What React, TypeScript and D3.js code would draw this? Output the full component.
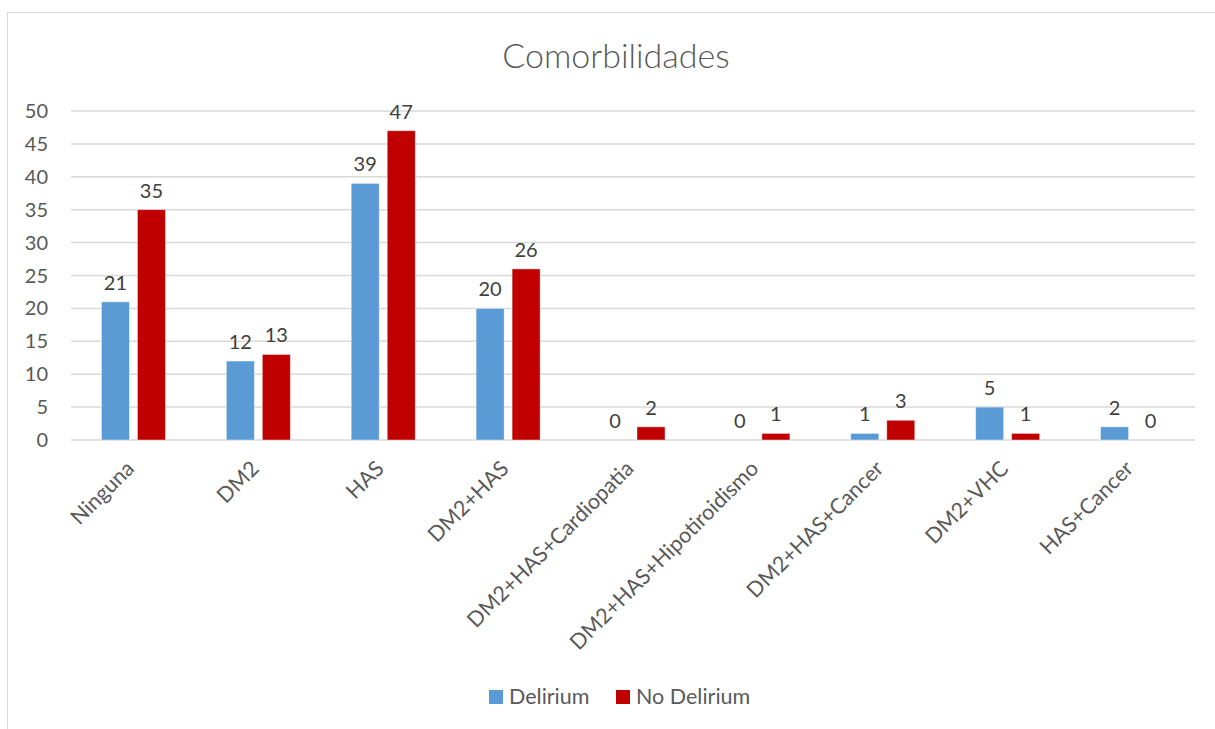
import React from "react";
import * as d3 from "d3";

const categories = ["Ninguna", "DM2", "HAS", "DM2+HAS", "DM2+HAS+Cardiopatia", "DM2+HAS+Hipotiroidismo", "DM2+HAS+Cancer", "DM2+VHC", "HAS+Cancer"];
const delirium = [21, 12, 39, 20, 0, 0, 1, 5, 2];
const noDelirium = [35, 13, 47, 26, 2, 1, 3, 1, 0];
const yTicks = [0, 5, 10, 15, 20, 25, 30, 35, 40, 45, 50];
const seriesNames = ["Delirium", "No Delirium"];
const colors = ["#5b9bd5", "#c00000"];

const W = 1215, H = 729;
const left = 71, right = 1195, top = 111, bottom = 440;
const font = "Lato, 'Open Sans', sans-serif";
const textColor = "#595959";

export default function App() {
  const x = d3.scaleBand().domain(categories).range([left, right]).paddingInner(0).paddingOuter(0);
  const y = d3.scaleLinear().domain([0, 50]).range([bottom, top]);
  const bw = 28;
  const gap = 8;
  const series = [delirium, noDelirium];
  return (
    <svg width={W} height={H} style={{ position: "absolute", left: 0, top: 0, background: "#fff" }}>
      <rect x={7.5} y={12.5} width={W} height={H} fill="#fff" stroke="#d9d9d9" strokeWidth={1} />
      <text x={616} y={68} textAnchor="middle" fontFamily={font} fontWeight={300} fontSize={34} fill={textColor}>Comorbilidades</text>
      {yTicks.map((t) => (
        <g key={t}>
          <line x1={left} x2={right} y1={y(t)} y2={y(t)} stroke="#d9d9d9" strokeWidth={1.5} />
          <text x={48} y={y(t) + 7} textAnchor="end" fontFamily={font} fontSize={20} fill={textColor}>{t}</text>
        </g>
      ))}
      {categories.map((c, i) => {
        const cx = (x(c) as number) + x.bandwidth() / 2;
        return (
          <g key={c}>
            {series.map((s, j) => {
              const bx = j === 0 ? cx - gap / 2 - bw : cx + gap / 2;
              const v = s[i];
              return (
                <g key={j}>
                  <rect x={bx} y={y(v)} width={bw} height={bottom - y(v)} fill={colors[j]} stroke="#fff" strokeOpacity={0.5} strokeWidth={0.8} />
                  <text x={bx + bw / 2} y={y(v) - 12} textAnchor="middle" fontFamily={font} fontSize={20} fill="#404040">{v}</text>
                </g>
              );
            })}
            <text transform={`translate(${cx + 2},${bottom + 30}) rotate(-45)`} textAnchor="end" fontFamily={font} fontSize={21.5} fill={textColor}>{c}</text>
          </g>
        );
      })}
      {seriesNames.map((n, j) => {
        const lx = j === 0 ? 489 : 616;
        return (
          <g key={n}>
            <rect x={lx} y={690} width={14} height={14} fill={colors[j]} />
            <text x={lx + 20} y={704} fontFamily={font} fontSize={21.5} fill={textColor}>{n}</text>
          </g>
        );
      })}
    </svg>
  );
}
